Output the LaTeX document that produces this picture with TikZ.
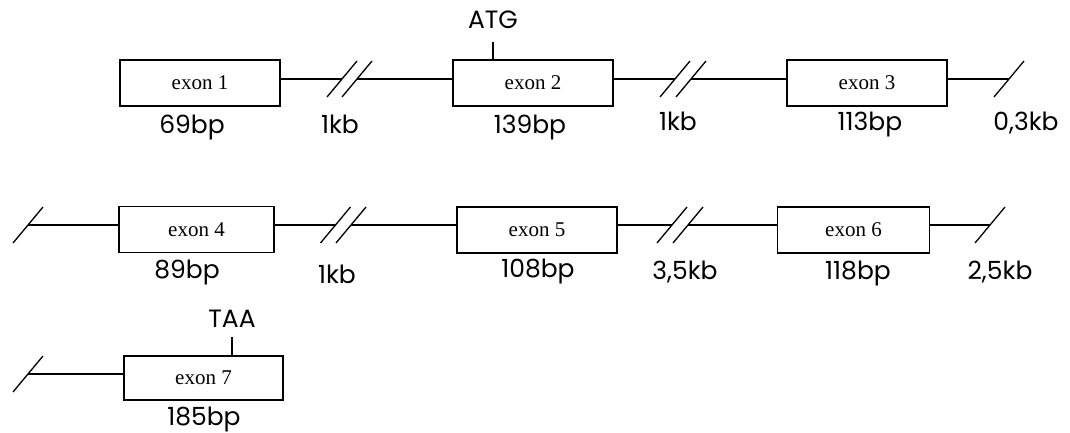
\documentclass[tikz,border=0pt]{standalone}
\usepackage{fontspec}
\setmainfont{Liberation Serif}
\newfontfamily\labelfont{Poppins}
\newcommand{\slashmark}[1]{\draw (#1) ++(-15,18) -- ++(30,-36);}
\begin{document}
\begin{tikzpicture}[x=1pt,y=-1pt,line width=1.3pt]
\tikzstyle{every node}+=[inner sep=0pt]
\tikzstyle{exonbox}=[draw,rectangle,minimum width=160pt,minimum height=46pt,font=\fontsize{21}{25}\selectfont]
\tikzstyle{sizelabel}=[anchor=base,font=\labelfont\fontsize{25}{30}\selectfont]
\useasboundingbox (0,0) rectangle (1070,433);
% row 1
\node [exonbox] (e1) at (200,83) {exon 1};
\node [exonbox] (e2) at (533,83) {exon 2};
\node [exonbox] (e3) at (867,83) {exon 3};
\coordinate (b1a) at (342,79);
\coordinate (b1b) at (357,79);
\coordinate (b2a) at (675,79);
\coordinate (b2b) at (691,79);
\coordinate (b3) at (1009,79);
\draw (e1.east |- b1a) -- (b1a);
\draw (b1b) -- (e2.west |- b1b);
\draw (e2.east |- b2a) -- (b2a);
\draw (b2b) -- (e3.west |- b2b);
\draw (e3.east |- b3) -- (b3);
\slashmark{b1a} \slashmark{b1b}
\slashmark{b2a} \slashmark{b2b}
\slashmark{b3}
\coordinate (atgtick) at (493,42);
\draw (e2.north -| atgtick) -- (atgtick);
\node [sizelabel] (atg) at (493,29) {ATG};
\node [sizelabel] (l1) at (192,133) {69bp};
\node [sizelabel] (l2) at (340,133) {1kb};
\node [sizelabel] (l3) at (530,133) {139bp};
\node [sizelabel] (l4) at (678,131) {1kb};
\node [sizelabel] (l5) at (870,131) {113bp};
\node [sizelabel] (l6) at (1026,131) {0,3kb};
% row 2
\node [exonbox,minimum width=155pt] (e4) at (196.5,229.5) {exon 4};
\node [exonbox] (e5) at (537,230) {exon 5};
\node [exonbox,minimum width=152pt] (e6) at (853.5,230) {exon 6};
\coordinate (b4) at (28,225);
\coordinate (b5a) at (335.5,225);
\coordinate (b5b) at (351,225);
\coordinate (b6a) at (672,225);
\coordinate (b6b) at (688,225);
\coordinate (b7) at (990,225);
\draw (b4) -- (e4.west |- b4);
\draw (e4.east |- b5a) -- (b5a);
\draw (b5b) -- (e5.west |- b5b);
\draw (e5.east |- b6a) -- (b6a);
\draw (b6b) -- (e6.west |- b6b);
\draw (e6.east |- b7) -- (b7);
\slashmark{b4}
\slashmark{b5a} \slashmark{b5b}
\slashmark{b6a} \slashmark{b6b}
\slashmark{b7}
\node [sizelabel] (l7) at (187,278) {89bp};
\node [sizelabel] (l8) at (337,283) {1kb};
\node [sizelabel] (l9) at (538,277) {108bp};
\node [sizelabel] (l10) at (685,279) {3,5kb};
\node [sizelabel] (l11) at (858,279) {118bp};
\node [sizelabel] (l12) at (1000,279) {2,5kb};
% row 3
\node [exonbox,minimum width=159pt,minimum height=44pt] (e7) at (203.5,378) {exon 7};
\coordinate (b8) at (28,374);
\draw (b8) -- (e7.west |- b8);
\slashmark{b8}
\coordinate (taatick) at (232,337);
\draw (e7.north -| taatick) -- (taatick);
\node [sizelabel] (taa) at (232,327) {TAA};
\node [sizelabel] (l13) at (204,425) {185bp};
\end{tikzpicture}
\end{document}
